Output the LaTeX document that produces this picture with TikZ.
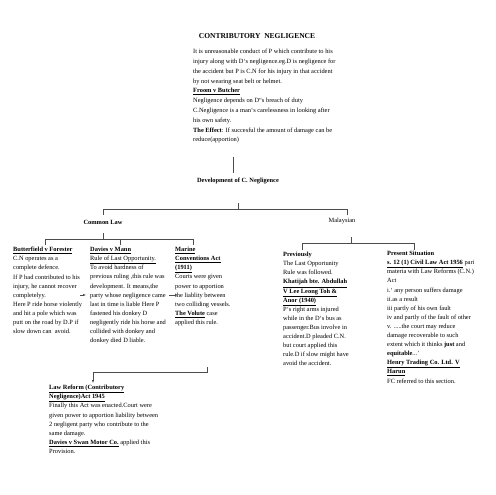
\documentclass[tikz,border=0pt]{standalone}
\usepackage{fontspec}
\setmainfont{Liberation Serif}
\usetikzlibrary{arrows.meta}
\begin{document}
\begin{tikzpicture}[x=1pt,y=-1pt,
    txt/.style={anchor=north west,inner sep=0pt,align=left,font=\fontsize{6.4}{9.1}\selectfont},
    hd/.style={inner sep=0pt,font=\fontsize{6.4}{9.1}\selectfont},
    link/.style={line width=0.5pt,draw=black!70},
    arr/.style={link,-{Latex[length=3pt,width=2.4pt]}}]
  \useasboundingbox (0,0) rectangle (495,495);
  \node[hd,font=\fontsize{7.5}{8}\selectfont\bfseries] (title) at (257,36) {CONTRIBUTORY\ \ NEGLIGENCE};
  \node[txt,font=\fontsize{6.4}{9.8}\selectfont] (intro) at (193,49) {It is unreasonable conduct of P which contribute to his\\
    injury along with D`s negligence.eg.D is negligence for\\
    the accident but P is C.N for his injury in that accident\\
    by not wearing seat belt or helmet.\\
    \textbf{\underline{Froom v Butcher}}\\
    Negligence depends on D``s breach of duty\\
    C.Negligence is a man`s carelessness in looking after\\
    his own safety.\\
    \textbf{The Effect}: If succesful the amount of damage can be\\
    reduce(apportion)};
  \node[hd,font=\fontsize{6.4}{9.1}\selectfont\bfseries] (dev) at (238,181) {Development of C. Negligence};
  \node[hd,font=\fontsize{6.4}{9.1}\selectfont\bfseries] (common) at (103,222) {Common Law};
  \node[hd] (malay) at (342,221) {Malaysian};
  \node[txt] (butter) at (13,247) {\textbf{\underline{Butterfield v Forester}}\\
    C.N operates as a\\
    complete defence.\\
    If P had contributed to his\\
    injury, he cannot recover\\
    completelyy.\\
    Here P ride horse violently\\
    and hit a pole which was\\
    putt on the road by D.P if\\
    slow down can\ \ avoid.};
  \node[txt] (davies) at (90,247) {\textbf{\underline{Davies v Mann}}\\
    \underline{Rule of Last Opportunity.}\\
    To avoid hardness of\\
    previous ruling ,this rule was\\
    development. It means,the\\
    party whose negligence came\\
    last in time is liable Here P\\
    fastened his donkey D\\
    negligently ride his horse and\\
    collided with donkey and\\
    donkey died D liable.};
  \node[txt] (marine) at (175,247) {\textbf{\underline{Marine}}\\
    \textbf{\underline{Conventions Act}}\\
    \textbf{\underline{(1911)}}\\
    Courts were given\\
    power to apportion\\
    the liablity between\\
    two colliding vessels.\\
    \textbf{\underline{The Volute}} case\\
    applied this rule.};
  \node[txt] (prev) at (283,252) {\textbf{Previously}\\
    The Last Opportunity\\
    Rule was followed.\\
    \textbf{\underline{Khatijah bte. Abdullah}}\\
    \textbf{\underline{V Lee Leong Toh \&}}\\
    \textbf{\underline{Anor (1940)}}\\
    P`s right arms injured\\
    while in the D`s bus as\\
    passenger.Bus involve in\\
    accident.D pleaded C.N.\\
    but court applied this\\
    rule.D if slow might have\\
    avoid the accident.};
  \node[txt] (present) at (387,251) {\textbf{Present Situation}\\
    \textbf{\underline{s. 12 (1) Civil Law Act 1956}} pari\\
    materia with Law Reforms (C.N.)\\
    Act\\
    i.` any person suffers damage\\
    ii.as a result\\
    iii partly of his own fault\\
    iv and partly of the fault of other\\
    v. .....the court may reduce\\
    damage recoverable to such\\
    extent which it thinks \textbf{just} and\\
    \textbf{equitable}...'\\
    \textbf{\underline{Henry Trading Co. Ltd. V}}\\
    \textbf{\underline{Harun}}\\
    FC referred to this section.};
  \node[txt] (lawref) at (49,385) {\textbf{\underline{Law Reform (Contributory}}\\
    \textbf{\underline{Negligence)Act 1945}}\\
    Finally this Act was enacted.Court were\\
    given power to apportion liability between\\
    2 negligent party who contribute to the\\
    same damage.\\
    \textbf{\underline{Davies v Swan Motor Co.}} applied this\\
    Provision.};
  \coordinate (intro-low) at (233,157);
  \coordinate (dev-tick) at (238,203);
  \coordinate (cl-top) at (103,215);
  \coordinate (my-top) at (347,215);
  \coordinate (cl-tick) at (103,233);
  \coordinate (bf-top) at (45,245);
  \coordinate (dm-top) at (120,245);
  \coordinate (mc-top) at (193,245);
  \coordinate (my-tick) at (351,237);
  \coordinate (pv-top) at (302,250);
  \coordinate (ps-top) at (414,250);
  \coordinate (mc-low) at (207,367);
  \coordinate (lr-top) at (93,383);
  \draw[link] (intro-low) -- ++(0,16);
  \draw[link] (dev-tick) -- ++(0,6);
  \draw[link] (cl-top) -- ++(0,-6) -| (my-top);
  \draw[link] (cl-tick) -- ++(0,6);
  \draw[link] (bf-top) -- ++(0,-6) -| (mc-top);
  \draw[link] (dm-top) -- ++(0,-6);
  \draw[link] (my-tick) -- ++(0,6);
  \draw[link] (pv-top) -- ++(0,-7) -| (ps-top);
  \draw[arr] (mc-low) -- ++(0,5) -| (lr-top);
  \coordinate (bf-arr) at (80,295);
  \coordinate (dm-arr) at (86,295);
  \coordinate (dm-out) at (169,295);
  \coordinate (mc-in) at (178,295);
  \draw[arr] (bf-arr) -- (dm-arr);
  \draw[arr] (dm-out) -- (mc-in);
\end{tikzpicture}
\end{document}
